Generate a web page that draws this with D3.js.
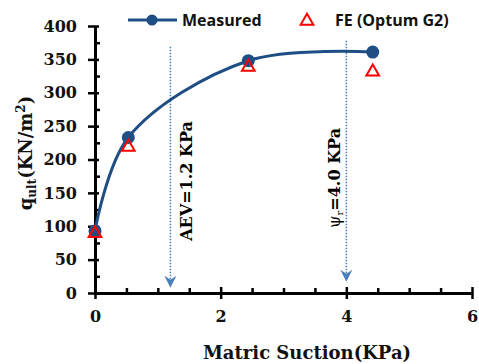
<!DOCTYPE html>
<html lang="en">
<head>
    <meta charset="UTF-8">
    <title>Ultimate bearing capacity vs matric suction</title>
    <script src="https://d3js.org/d3.v7.min.js"></script>
    <style>
        body { margin: 0; background: #fff; }
        svg { display: block; }
    </style>
</head>
<body>
    <svg id="chart" width="479" height="364"></svg>
    <script>
        // Values
        const suction = [0, 0.53, 2.44, 4.42];
        const measured = [93, 233, 348, 361];
        const feSuction = [0, 0.53, 2.44, 4.42];
        const feValues = [91, 220, 340, 333];
        const xTicks = [0, 2, 4, 6];
        const xMinor = [0.5, 1, 1.5, 2.5, 3, 3.5, 4.5, 5, 5.5];
        const yTicks = [0, 50, 100, 150, 200, 250, 300, 350, 400];
        const yMinor = [25, 75, 125, 175, 225, 275, 325, 375];
        // dotted arrows: suction value, start and end in kN/m2
        const arrowX = [1.2, 4.0];
        const arrowTop = [369, 378];
        const arrowEnd = [8, 17];

        const svg = d3.select('#chart');
        const x = d3.scaleLinear().domain([0, 6]).range([95, 472]);
        const y = d3.scaleLinear().domain([0, 400]).range([293, 26]);

        const navy = '#1f4e85';
        const arrowBlue = '#4a7ebb';
        const serif = '"DejaVu Serif", serif';

        // dotted annotation lines
        arrowX.forEach((v, i) => {
            svg.append('line')
                .attr('x1', x(v)).attr('x2', x(v))
                .attr('y1', y(arrowTop[i])).attr('y2', y(arrowEnd[i]) - 6)
                .attr('stroke', arrowBlue)
                .attr('stroke-width', 1.5)
                .attr('stroke-dasharray', '1.5,1.5');
            const tx = x(v), ty = y(arrowEnd[i]);
            svg.append('path')
                .attr('d', `M${tx},${ty} L${tx - 6},${ty - 12} L${tx},${ty - 8} L${tx + 6},${ty - 12} Z`)
                .attr('fill', arrowBlue);
        });

        // annotation texts
        svg.append('text')
            .attr('transform', `translate(192,181) rotate(-90)`)
            .attr('text-anchor', 'middle')
            .attr('font-family', serif)
            .attr('font-weight', 'bold')
            .attr('font-size', 16)
            .text('AEV=1.2 KPa');

        const psi = svg.append('text')
            .attr('transform', `translate(340,178) rotate(-90)`)
            .attr('text-anchor', 'middle')
            .attr('font-family', serif)
            .attr('font-size', 16);
        psi.append('tspan').text('\u03c8');
        psi.append('tspan').attr('font-size', 10).attr('dy', 3).text('r');
        psi.append('tspan').attr('font-weight', 'bold').attr('dy', -3).text('=4.0 KPa');

        // axes
        const axisStyle = g => {
            g.select('.domain').attr('stroke', '#000').attr('stroke-width', 3);
            g.selectAll('.tick line').attr('stroke', '#000').attr('stroke-width', 2.5);
            g.selectAll('.tick text')
                .attr('font-family', serif)
                .attr('font-weight', 'bold')
                .attr('font-size', 16)
                .attr('fill', '#111');
        };

        const yAxis = svg.append('g')
            .attr('transform', `translate(${x(0)},0)`)
            .call(d3.axisLeft(y).tickValues(yTicks).tickSize(7).tickSizeOuter(0).tickPadding(11))
            .call(axisStyle);
        yAxis.selectAll('.tick line').attr('x1', 4);

        svg.append('g')
            .attr('transform', `translate(${x(0)},0)`)
            .call(d3.axisLeft(y).tickValues(yMinor).tickSize(-5).tickFormat(''))
            .call(g => g.select('.domain').remove())
            .selectAll('.tick line').attr('stroke', '#000').attr('stroke-width', 2.5);

        const xAxis = svg.append('g')
            .attr('transform', `translate(0,${y(0)})`)
            .call(d3.axisBottom(x).tickValues(xTicks).tickFormat(d3.format('d'))
                .tickSize(6).tickSizeOuter(0).tickPadding(12))
            .call(axisStyle);
        xAxis.selectAll('.tick line').attr('y1', -6);

        svg.append('g')
            .attr('transform', `translate(0,${y(0)})`)
            .call(d3.axisBottom(x).tickValues(xMinor).tickSize(-5).tickFormat(''))
            .call(g => g.select('.domain').remove())
            .selectAll('.tick line').attr('stroke', '#000').attr('stroke-width', 2.5);

        // axis titles
        svg.append('text')
            .attr('x', 307).attr('y', 359)
            .attr('text-anchor', 'middle')
            .attr('font-family', serif)
            .attr('font-weight', 'bold')
            .attr('font-size', 18)
            .attr('fill', '#111')
            .text('Matric Suction(KPa)');

        const yTitle = svg.append('text')
            .attr('transform', 'translate(32,153) rotate(-90)')
            .attr('text-anchor', 'middle')
            .attr('font-family', serif)
            .attr('font-weight', 'bold')
            .attr('font-size', 18)
            .attr('fill', '#111');
        yTitle.append('tspan').text('q');
        yTitle.append('tspan').attr('font-size', 12).attr('dy', 4).text('ult');
        yTitle.append('tspan').attr('dy', -4).text('(KN/m');
        yTitle.append('tspan').attr('font-size', 12).attr('dy', -7).text('2');
        yTitle.append('tspan').attr('dy', 7).text(')');

        // measured series, smoothed line
        const pts = suction.map((s, i) => [s, measured[i]]);
        const line = d3.line()
            .x(d => x(d[0]))
            .y(d => y(d[1]))
            .curve(d3.curveCatmullRom.alpha(0.5));
        svg.append('path')
            .datum(pts)
            .attr('d', line)
            .attr('fill', 'none')
            .attr('stroke', navy)
            .attr('stroke-width', 3);
        svg.selectAll('.meas')
            .data(pts)
            .join('circle')
            .attr('cx', d => x(d[0]))
            .attr('cy', d => y(d[1]))
            .attr('r', 6.5)
            .attr('fill', navy);

        // FE results
        const tri = d3.symbol().type(d3.symbolTriangle).size(70);
        svg.selectAll('.fe')
            .data(feSuction.map((s, i) => [s, feValues[i]]))
            .join('path')
            .attr('d', tri)
            .attr('transform', d => `translate(${x(d[0])},${y(d[1]) + 1})`)
            .attr('fill', 'none')
            .attr('stroke', '#ff0000')
            .attr('stroke-width', 2);

        // legend
        const legendFont = '"Open Sans", sans-serif';
        svg.append('line')
            .attr('x1', 128).attr('x2', 177).attr('y1', 20).attr('y2', 20)
            .attr('stroke', navy).attr('stroke-width', 3);
        svg.append('circle')
            .attr('cx', 152).attr('cy', 20).attr('r', 5.5).attr('fill', navy);
        svg.append('text')
            .attr('x', 182).attr('y', 26)
            .attr('font-family', legendFont)
            .attr('font-weight', 'bold')
            .attr('font-size', 16)
            .attr('fill', '#111')
            .text('Measured');
        svg.append('path')
            .attr('d', tri)
            .attr('transform', 'translate(307,21)')
            .attr('fill', 'none')
            .attr('stroke', '#ff0000')
            .attr('stroke-width', 2);
        svg.append('text')
            .attr('x', 335).attr('y', 26)
            .attr('font-family', legendFont)
            .attr('font-weight', 'bold')
            .attr('font-size', 16)
            .attr('fill', '#111')
            .text('FE (Optum G2)');
    </script>
</body>
</html>
